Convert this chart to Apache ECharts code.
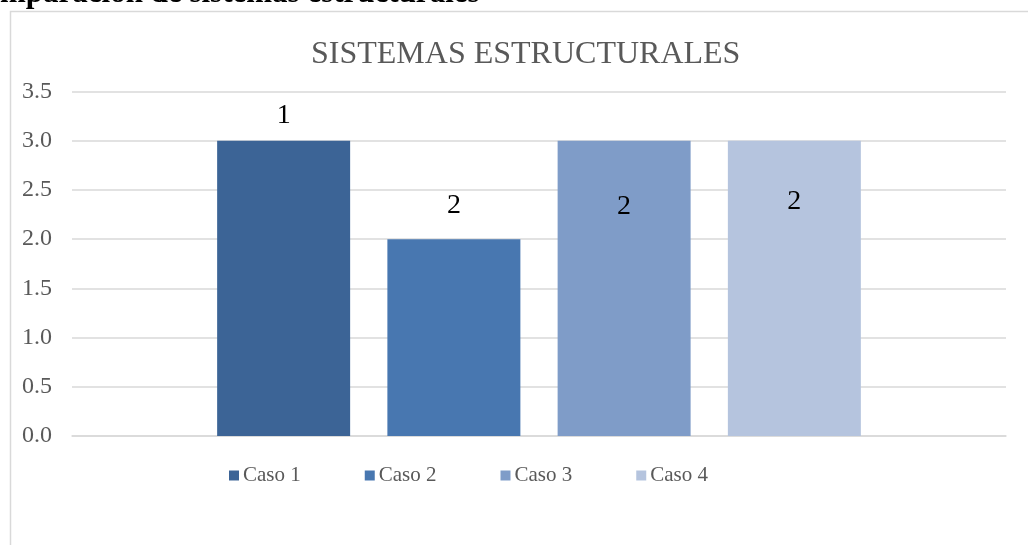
<!DOCTYPE html>
<html>
<head>
<meta charset="utf-8">
<script src="https://cdn.jsdelivr.net/npm/echarts@6/dist/echarts.min.js"></script>
<style>
  html, body { margin: 0; padding: 0; background: #fff; overflow: hidden; }
  #cabecera {
    position: absolute; left: 0; top: -24px;
    font-family: "Liberation Serif", serif; font-weight: bold; font-size: 31px; line-height: 31px;
    color: #000; white-space: nowrap; z-index: 2;
  }
  #grafico { position: absolute; left: 0; top: 0; width: 1028px; height: 545px; }
</style>
</head>
<body>
<div id="cabecera">mparación de sistemas estructurales</div>
<div id="grafico"></div>
<script>
// datos
const casos = ['Caso 1', 'Caso 2', 'Caso 3', 'Caso 4']
const valores = [3, 2, 3, 3]
const etiquetas = [1, 2, 2, 2]   // rótulos que muestra cada barra
const colores = ['#3c6496', '#4877b0', '#7f9cc8', '#b5c4de']
// dónde cae cada rótulo (como en el original, no siempre encima)
const posRotulo = [['top', 11], ['top', 20], ['insideTop', 52], ['insideTop', 47]]

const fuente = '"Liberation Serif", "Times New Roman", serif'
let myChart = echarts.init(document.getElementById('grafico'))

const option = {
  animation: false,
  title: {
    text: 'SISTEMAS ESTRUCTURALES',
    left: 306,
    top: 34,
    textStyle: { fontFamily: fuente, fontWeight: 'normal', fontSize: 32, color: '#595959' }
  },
  graphic: [{
    type: 'rect',
    shape: { x: 10.5, y: 11.5, width: 1100, height: 700 },
    style: { fill: 'none', stroke: '#d9d9d9', lineWidth: 1.5 },
    silent: true
  }],
  legend: {
    data: casos,
    left: 224,
    top: 460,
    itemWidth: 10,
    itemHeight: 10,
    itemGap: 64,
    icon: 'rect',
    textStyle: { fontFamily: fuente, fontSize: 21, color: '#595959', padding: [0, 0, 0, -1] }
  },
  grid: { left: 72, right: 22, top: 91.5, bottom: 109 },
  xAxis: {
    type: 'category',
    data: [''],
    axisLine: { lineStyle: { color: '#d9d9d9', width: 1.5 } },
    axisTick: { show: false },
    axisLabel: { show: false }
  },
  yAxis: {
    type: 'value',
    min: 0,
    max: 3.5,
    interval: 0.5,
    axisLine: { show: false },
    axisTick: { show: false },
    splitLine: { lineStyle: { color: '#d9d9d9', width: 1.5 } },
    axisLabel: {
      margin: 20,
      fontFamily: fuente, fontSize: 24, color: '#595959',
      formatter: v => v.toFixed(1)
    }
  },
  series: casos.map((nombre, i) => ({
    name: nombre,
    type: 'bar',
    data: [valores[i]],
    barWidth: 133,
    barGap: '28%',
    itemStyle: { color: colores[i] },
    label: {
      show: true,
      position: posRotulo[i][0],
      distance: posRotulo[i][1],
      fontFamily: fuente, fontSize: 28, color: '#000',
      formatter: () => String(etiquetas[i])
    }
  }))
}
myChart.setOption(option)
</script>
</body>
</html>
